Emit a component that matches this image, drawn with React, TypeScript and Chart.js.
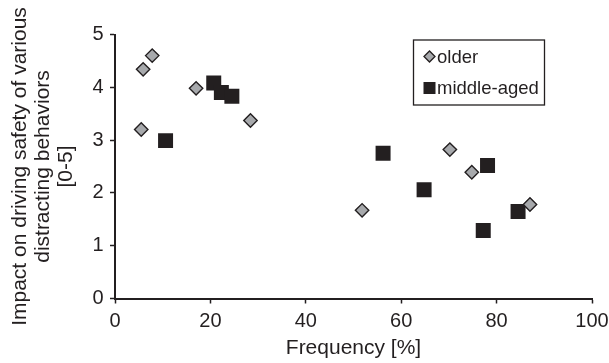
import React, { useEffect, useRef } from 'react';
import { Chart, registerables } from 'chart.js';

Chart.register(...registerables);

// ---- data ----
const seriesLabels = ['older', 'middle-aged'];
const olderX = [5.5, 5.9, 7.8, 17.0, 28.4, 51.8, 70.2, 74.8, 87.0];
const olderY = [3.2, 4.34, 4.6, 3.98, 3.37, 1.67, 2.82, 2.39, 1.78];
const middleX = [10.6, 20.7, 22.3, 24.5, 56.2, 64.8, 78.1, 77.2, 84.5];
const middleY = [2.99, 4.08, 3.9, 3.83, 2.75, 2.06, 2.52, 1.29, 1.65];
const xTicks = [0, 20, 40, 60, 80, 100];
const yTicks = [0, 1, 2, 3, 4, 5];
const xTitle = 'Frequency [%]';
const yTitle = ['Impact on driving safety of various', 'distracting behaviors', '[0-5]'];

const FONT = "'Liberation Sans', Arial, sans-serif";
const INK = '#231f20';
const GRAY = '#a7a9ac';

const boxLegend = {
  id: 'boxLegend',
  afterDraw(chart: any) {
    const { ctx, chartArea } = chart;
    const x0 = chartArea.left + 298;
    const y0 = chartArea.top + 5;
    const w = 131;
    const h = 65;
    ctx.save();
    ctx.fillStyle = '#ffffff';
    ctx.fillRect(x0, y0, w, h);
    ctx.strokeStyle = INK;
    ctx.lineWidth = 1.3;
    ctx.strokeRect(x0 + 0.5, y0 + 0.5, w, h);
    const ds = chart.data.datasets;
    ctx.font = `18.5px ${FONT}`;
    ctx.textBaseline = 'alphabetic';
    ctx.textAlign = 'left';
    // item 1: diamond
    const cx = x0 + 16.5;
    let cy = y0 + 17;
    ctx.beginPath();
    ctx.moveTo(cx - 5.5, cy);
    ctx.lineTo(cx, cy - 5.5);
    ctx.lineTo(cx + 5.5, cy);
    ctx.lineTo(cx, cy + 5.5);
    ctx.closePath();
    ctx.fillStyle = ds[0].backgroundColor;
    ctx.fill();
    ctx.lineWidth = 1.3;
    ctx.strokeStyle = ds[0].borderColor;
    ctx.stroke();
    ctx.fillStyle = INK;
    ctx.fillText(ds[0].label, x0 + 24, y0 + 23);
    // item 2: square
    cy = y0 + 48.5;
    ctx.fillStyle = ds[1].backgroundColor;
    ctx.fillRect(cx - 6, cy - 6, 12, 12);
    ctx.fillStyle = INK;
    ctx.fillText(ds[1].label, x0 + 24, y0 + 54.5);
    ctx.restore();
  },
};

export default function App() {
  const ref = useRef<HTMLCanvasElement | null>(null);

  useEffect(() => {
    if (!ref.current) return;
    const chart = new Chart(ref.current, {
      type: 'scatter',
      data: {
        datasets: [
          {
            label: seriesLabels[0],
            data: olderX.map((x, i) => ({ x, y: olderY[i] })),
            pointStyle: 'rectRot',
            pointRadius: 6.7,
            backgroundColor: GRAY,
            borderColor: INK,
            borderWidth: 1.4,
          },
          {
            label: seriesLabels[1],
            data: middleX.map((x, i) => ({ x, y: middleY[i] })),
            pointStyle: 'rect',
            pointRadius: 10.6,
            backgroundColor: INK,
            borderColor: INK,
            borderWidth: 0,
          },
        ],
      },
      options: {
        responsive: false,
        animation: false,
        layout: { padding: { top: 34.5, right: 17, left: 0, bottom: 0 } },
        plugins: {
          legend: { display: false },
          tooltip: { enabled: false },
        },
        scales: {
          x: {
            type: 'linear',
            min: xTicks[0],
            max: xTicks[xTicks.length - 1],
            afterBuildTicks: (s: any) => { s.ticks = xTicks.map((v) => ({ value: v })); },
            afterFit: (s: any) => { s.height = 64.5; s.paddingLeft = 0; s.paddingRight = 0; },
            grid: { drawOnChartArea: false, drawTicks: true, tickLength: 5, tickColor: INK, tickWidth: 1.5 },
            border: { display: true, color: INK, width: 2 },
            ticks: { color: INK, font: { family: FONT, size: 20 }, padding: 6, maxRotation: 0 },
            title: { display: true, text: xTitle, color: INK, font: { family: FONT, size: 21, lineHeight: 1.1 }, padding: { top: 0, bottom: 3 } },
          },
          y: {
            type: 'linear',
            min: yTicks[0],
            max: yTicks[yTicks.length - 1],
            afterBuildTicks: (s: any) => { s.ticks = yTicks.map((v) => ({ value: v })); },
            afterFit: (s: any) => { s.width = 115; s.paddingTop = 0; s.paddingBottom = 0; },
            grid: { drawOnChartArea: false, drawTicks: true, tickLength: 5, tickColor: INK, tickWidth: 1.5 },
            border: { display: true, color: INK, width: 2 },
            ticks: { color: INK, font: { family: FONT, size: 20 }, padding: 6.5 },
            title: { display: true, text: yTitle, color: INK, font: { family: FONT, size: 21, lineHeight: 1.1 }, padding: { top: 8.5, bottom: 0 } },
          },
        },
      },
      plugins: [boxLegend],
    } as any);
    return () => chart.destroy();
  }, []);

  return (
    <div style={{ position: 'absolute', left: 0, top: 0, width: 609, height: 363, background: '#fff' }}>
      <canvas ref={ref} width={609} height={363} style={{ display: 'block' }} />
    </div>
  );
}
